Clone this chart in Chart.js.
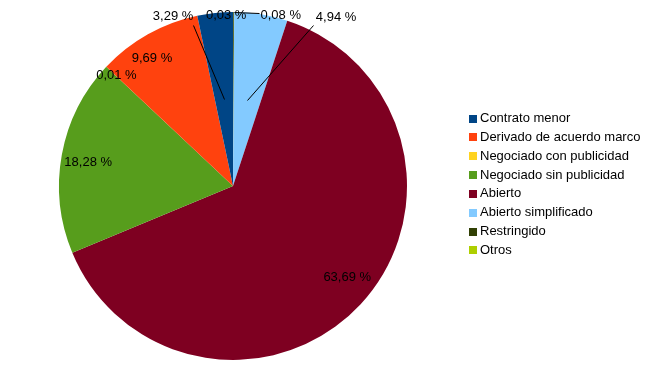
<!DOCTYPE html>
<html>
<head>
<meta charset="utf-8">
<script src="https://cdn.jsdelivr.net/npm/chart.js@4/dist/chart.umd.min.js"></script>
<style>
  body { margin: 0; background: #fff; }
  #wrap { width: 652px; height: 367px; position: relative; }
</style>
</head>
<body>
<div id="wrap"><canvas id="myChart"></canvas></div>
<script>
// data, in legend order
const categories = ['Contrato menor', 'Derivado de acuerdo marco', 'Negociado con publicidad',
    'Negociado sin publicidad', 'Abierto', 'Abierto simplificado', 'Restringido', 'Otros'];
const shares = [3.29, 9.69, 0.01, 18.28, 63.69, 4.94, 0.08, 0.03];
const colors = ['#004586', '#ff420e', '#ffd320', '#579d1c', '#7e0021', '#83caff', '#314004', '#aecf00'];

// where each percent label sits (radius factor along the slice middle + nudge), leader lines
const labelPlace = [
    { f: 1, dx: -42, dy: 3, leader: 0.5, lx: 20, ly: 9 },
    { f: 0.87, dx: -7, dy: 4 },
    { f: 0.92, dx: 0, dy: -1 },
    { f: 0.84, dx: -1, dy: 3 },
    { f: 0.84, dx: 7, dy: -8 },
    { f: 1, dx: 75, dy: 3, leader: 0.5, lx: -23, ly: 8 },
    { f: 1, dx: 47, dy: 3, leader: 1, lx: -22, ly: -2 },
    { f: 1, dx: -7, dy: 3 }
];

// LibreOffice goes counter clockwise, chart.js clockwise -> feed it reversed
const rev = (a) => a.slice().reverse();

const pctLabels = {
    id: 'pctLabels',
    afterDatasetsDraw(chart) {
        const ctx = chart.ctx;
        const meta = chart.getDatasetMeta(0);
        const n = categories.length;
        ctx.save();
        ctx.font = '13px "Liberation Sans", Arial, sans-serif';
        ctx.fillStyle = '#000';
        ctx.strokeStyle = '#000';
        ctx.lineWidth = 1;
        ctx.textAlign = 'center';
        ctx.textBaseline = 'middle';
        meta.data.forEach((arc, j) => {
            const i = n - 1 - j;
            const p = labelPlace[i];
            const { x, y, startAngle, endAngle, outerRadius } = arc.getProps(['x', 'y', 'startAngle', 'endAngle', 'outerRadius'], true);
            const mid = (startAngle + endAngle) / 2;
            const r = outerRadius * p.f;
            const tx = x + Math.cos(mid) * r + (p.dx || 0);
            const ty = y + Math.sin(mid) * r + (p.dy || 0);
            if (p.leader) {
                const ir = outerRadius * p.leader;
                ctx.beginPath();
                ctx.moveTo(Math.round(x + Math.cos(mid) * ir) + 0.5, Math.round(y + Math.sin(mid) * ir) + 0.5);
                ctx.lineTo(Math.round(tx + p.lx) + 0.5, Math.round(ty + p.ly) + 0.5);
                ctx.stroke();
            }
            ctx.fillText(shares[i].toFixed(2).replace('.', ',') + ' %', tx, ty);
        });
        ctx.restore();
    }
};

const sideLegend = {
    id: 'sideLegend',
    afterDraw(chart) {
        const ctx = chart.ctx;
        ctx.save();
        ctx.font = '13px "Liberation Sans", Arial, sans-serif';
        ctx.textAlign = 'left';
        ctx.textBaseline = 'middle';
        categories.forEach((c, i) => {
            const yy = 118.5 + i * 18.85;
            ctx.fillStyle = colors[i];
            ctx.fillRect(469, Math.round(yy) - 4, 8, 8);
            ctx.fillStyle = '#000';
            ctx.fillText(c, 480, yy);
        });
        ctx.restore();
    }
};

const config = {
    type: 'pie',
    data: {
        labels: rev(categories),
        datasets: [{
            data: rev(shares),
            backgroundColor: rev(colors),
            borderWidth: 0
        }]
    },
    plugins: [pctLabels, sideLegend],
    options: {
        responsive: true,
        maintainAspectRatio: false,
        animation: false,
        layout: { padding: { left: 59, right: 245, top: 12, bottom: 7 } },
        plugins: {
            legend: { display: false },
            tooltip: { enabled: false }
        }
    }
};

const myChart = new Chart(document.getElementById('myChart'), config);
</script>
</body>
</html>
